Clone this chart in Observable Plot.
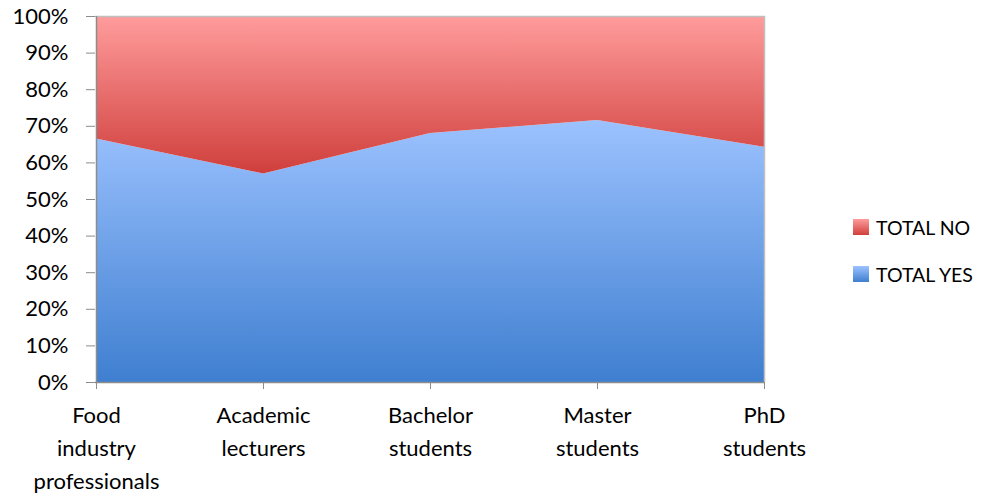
<!DOCTYPE html>
<html>
<head>
<meta charset="utf-8">
<script src="https://cdn.jsdelivr.net/npm/d3@7"></script>
<script src="https://cdn.jsdelivr.net/npm/@observablehq/plot@0.6"></script>
<style>
  body { margin: 0; background: #fff; font-family: Lato, sans-serif; }
  #wrap { position: relative; width: 990px; height: 496px; }
  #legend { position: absolute; left: 853px; top: 216px; font-size: 19.5px; color: #000; }
  .item { display: flex; align-items: center; height: 22px; margin-bottom: 25px; }
  .sw { width: 16px; height: 16px; margin-right: 7px; }
</style>
</head>
<body>
<div id="wrap"><div id="chart"></div>
<div id="legend">
  <div class="item"><div class="sw" style="background: linear-gradient(#ff9c9c, #cf3f3c)"></div>TOTAL NO</div>
  <div class="item"><div class="sw" style="background: linear-gradient(#9cc2ff, #3f7fd0)"></div>TOTAL YES</div>
</div>
</div>
<script>
const categories = ["Food\nindustry\nprofessionals", "Academic\nlecturers", "Bachelor\nstudents", "Master\nstudents", "PhD\nstudents"];
const totalYes = [66.5, 57.0, 68.0, 71.6, 64.3];
const totalNo = totalYes.map(v => 100 - v);
const yTicks = [0, 10, 20, 30, 40, 50, 60, 70, 80, 90, 100];

const data = categories.map((c, i) => ({c, yes: totalYes[i], no: totalNo[i]}));

const chart = Plot.plot({
  width: 990,
  height: 496,
  marginLeft: 95,
  marginRight: 225,
  marginTop: 16,
  marginBottom: 114,
  style: {fontFamily: "Lato, sans-serif", fontSize: "22px", color: "#000", background: "#fff"},
  x: {type: "point", domain: categories, padding: 0},
  y: {domain: [0, 100]},
  marks: [
    Plot.areaY(data, {x: "c", y1: 0, y2: "yes", fill: "url(#gradYes)"}),
    Plot.areaY(data, {x: "c", y1: "yes", y2: 100, fill: "url(#gradNo)"}),
    Plot.ruleX([categories[categories.length - 1]], {stroke: "#bfbfbf", strokeWidth: 1.5}),
    Plot.ruleY([100], {stroke: "#bfbfbf", strokeWidth: 1.5}),
    Plot.axisY({ticks: yTicks, tickFormat: d => d + "%", tickSize: 9, tickPadding: 18, stroke: "#8c8c8c", fill: "#000", fontSize: 22, label: null}),
    Plot.axisX({tickSize: 7, tickPadding: 10, stroke: "#8c8c8c", fill: "#000", fontSize: 22, lineHeight: 1.5, label: null}),
    Plot.ruleX([categories[0]], {stroke: "#8c8c8c", strokeWidth: 1.5}),
    Plot.ruleY([0], {stroke: "#8c8c8c", strokeWidth: 1.5})
  ]
});

const ns = "http://www.w3.org/2000/svg";
const defs = document.createElementNS(ns, "defs");
function grad(id, top, bottom) {
  const g = document.createElementNS(ns, "linearGradient");
  g.setAttribute("id", id);
  g.setAttribute("x1", "0"); g.setAttribute("y1", "0");
  g.setAttribute("x2", "0"); g.setAttribute("y2", "1");
  [[0, top], [1, bottom]].forEach(([o, c]) => {
    const s = document.createElementNS(ns, "stop");
    s.setAttribute("offset", o);
    s.setAttribute("stop-color", c);
    g.appendChild(s);
  });
  defs.appendChild(g);
}
grad("gradNo", "#ff9c9c", "#cf3f3c");
grad("gradYes", "#9cc2ff", "#3f7fd0");
chart.insertBefore(defs, chart.firstChild);
document.getElementById("chart").appendChild(chart);
</script>
</body>
</html>
